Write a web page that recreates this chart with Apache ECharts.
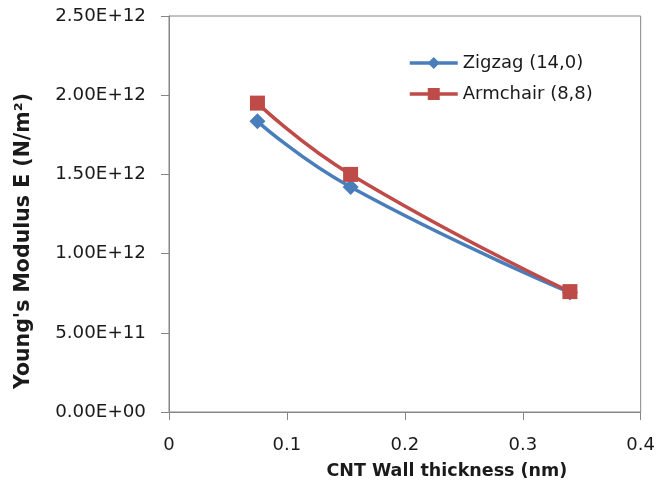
<!DOCTYPE html>
<html>
<head>
<meta charset="utf-8">
<script src="https://cdn.jsdelivr.net/npm/echarts@6/dist/echarts.min.js"></script>
<style>
html,body{margin:0;padding:0;background:#fff;}
#chart{width:658px;height:491px;}
</style>
</head>
<body>
<div id="chart"></div>
<script>
// ---- data ----
const thickness = [0.075, 0.154, 0.34];
const zigzag = [1.835e12, 1.42e12, 7.55e11];
const armchair = [1.95e12, 1.50e12, 7.6e11];
const seriesNames = ['Zigzag (14,0)', 'Armchair (8,8)'];
const xTitle = 'CNT Wall thickness (nm)';
const yTitle = "Young's Modulus E (N/m²)";

function sci(v) {
  if (v === 0) return '0.00E+00';
  const e = Math.floor(Math.log10(Math.abs(v)) + 1e-9);
  let m = v / Math.pow(10, e);
  const es = (e < 0 ? '-' : '+') + String(Math.abs(e)).padStart(2, '0');
  return m.toFixed(2) + 'E' + es;
}

const font = 'DejaVu Sans';
const chart = echarts.init(document.getElementById('chart'));
chart.setOption({
  animation: false,
  backgroundColor: '#fff',
  grid: {left: 169, right: 17, top: 16, bottom: 79, show: true, borderColor: '#868686', borderWidth: 1},
  legend: {
    orient: 'vertical', left: 403, top: 49, itemWidth: 48, itemHeight: 15, itemGap: 13,
    lineStyle: {width: 3.5},
    textStyle: {fontFamily: font, fontSize: 18, color: '#1a1a1a'},
    data: seriesNames
  },
  xAxis: {
    type: 'value', min: 0, max: 0.4, interval: 0.1,
    name: xTitle, nameLocation: 'middle', nameGap: 50,
    nameTextStyle: {fontFamily: font, fontSize: 17.5, fontWeight: 'bold', color: '#1a1a1a', padding: [0, 0, 0, 84]},
    axisLine: {lineStyle: {color: '#868686'}},
    axisTick: {show: true, length: 8, lineStyle: {color: '#868686'}},
    axisLabel: {fontFamily: font, fontSize: 18, color: '#1a1a1a', margin: 24},
    splitLine: {show: false}
  },
  yAxis: {
    type: 'value', min: 0, max: 2.5e12, interval: 5e11,
    name: yTitle, nameLocation: 'middle', nameGap: 135,
    nameTextStyle: {fontFamily: font, fontSize: 20.5, fontWeight: 'bold', color: '#1a1a1a', padding: [0, 54, 0, 0]},
    axisLine: {show: true, lineStyle: {color: '#868686'}},
    axisTick: {show: true, length: 8, lineStyle: {color: '#868686'}},
    axisLabel: {fontFamily: font, fontSize: 18.3, color: '#1a1a1a', margin: 23, formatter: sci},
    splitLine: {show: false}
  },
  series: [
    {
      name: seriesNames[0], type: 'line', smooth: 0.5,
      data: thickness.map((x, i) => [x, zigzag[i]]),
      symbol: 'diamond', symbolSize: 16,
      lineStyle: {color: '#4A7EBB', width: 3.5},
      itemStyle: {color: '#4A7EBB'}
    },
    {
      name: seriesNames[1], type: 'line', smooth: 0.5,
      data: thickness.map((x, i) => [x, armchair[i]]),
      symbol: 'rect', symbolSize: 15,
      lineStyle: {color: '#BE4B48', width: 3.5},
      itemStyle: {color: '#BE4B48'}
    }
  ]
});
</script>
</body>
</html>
